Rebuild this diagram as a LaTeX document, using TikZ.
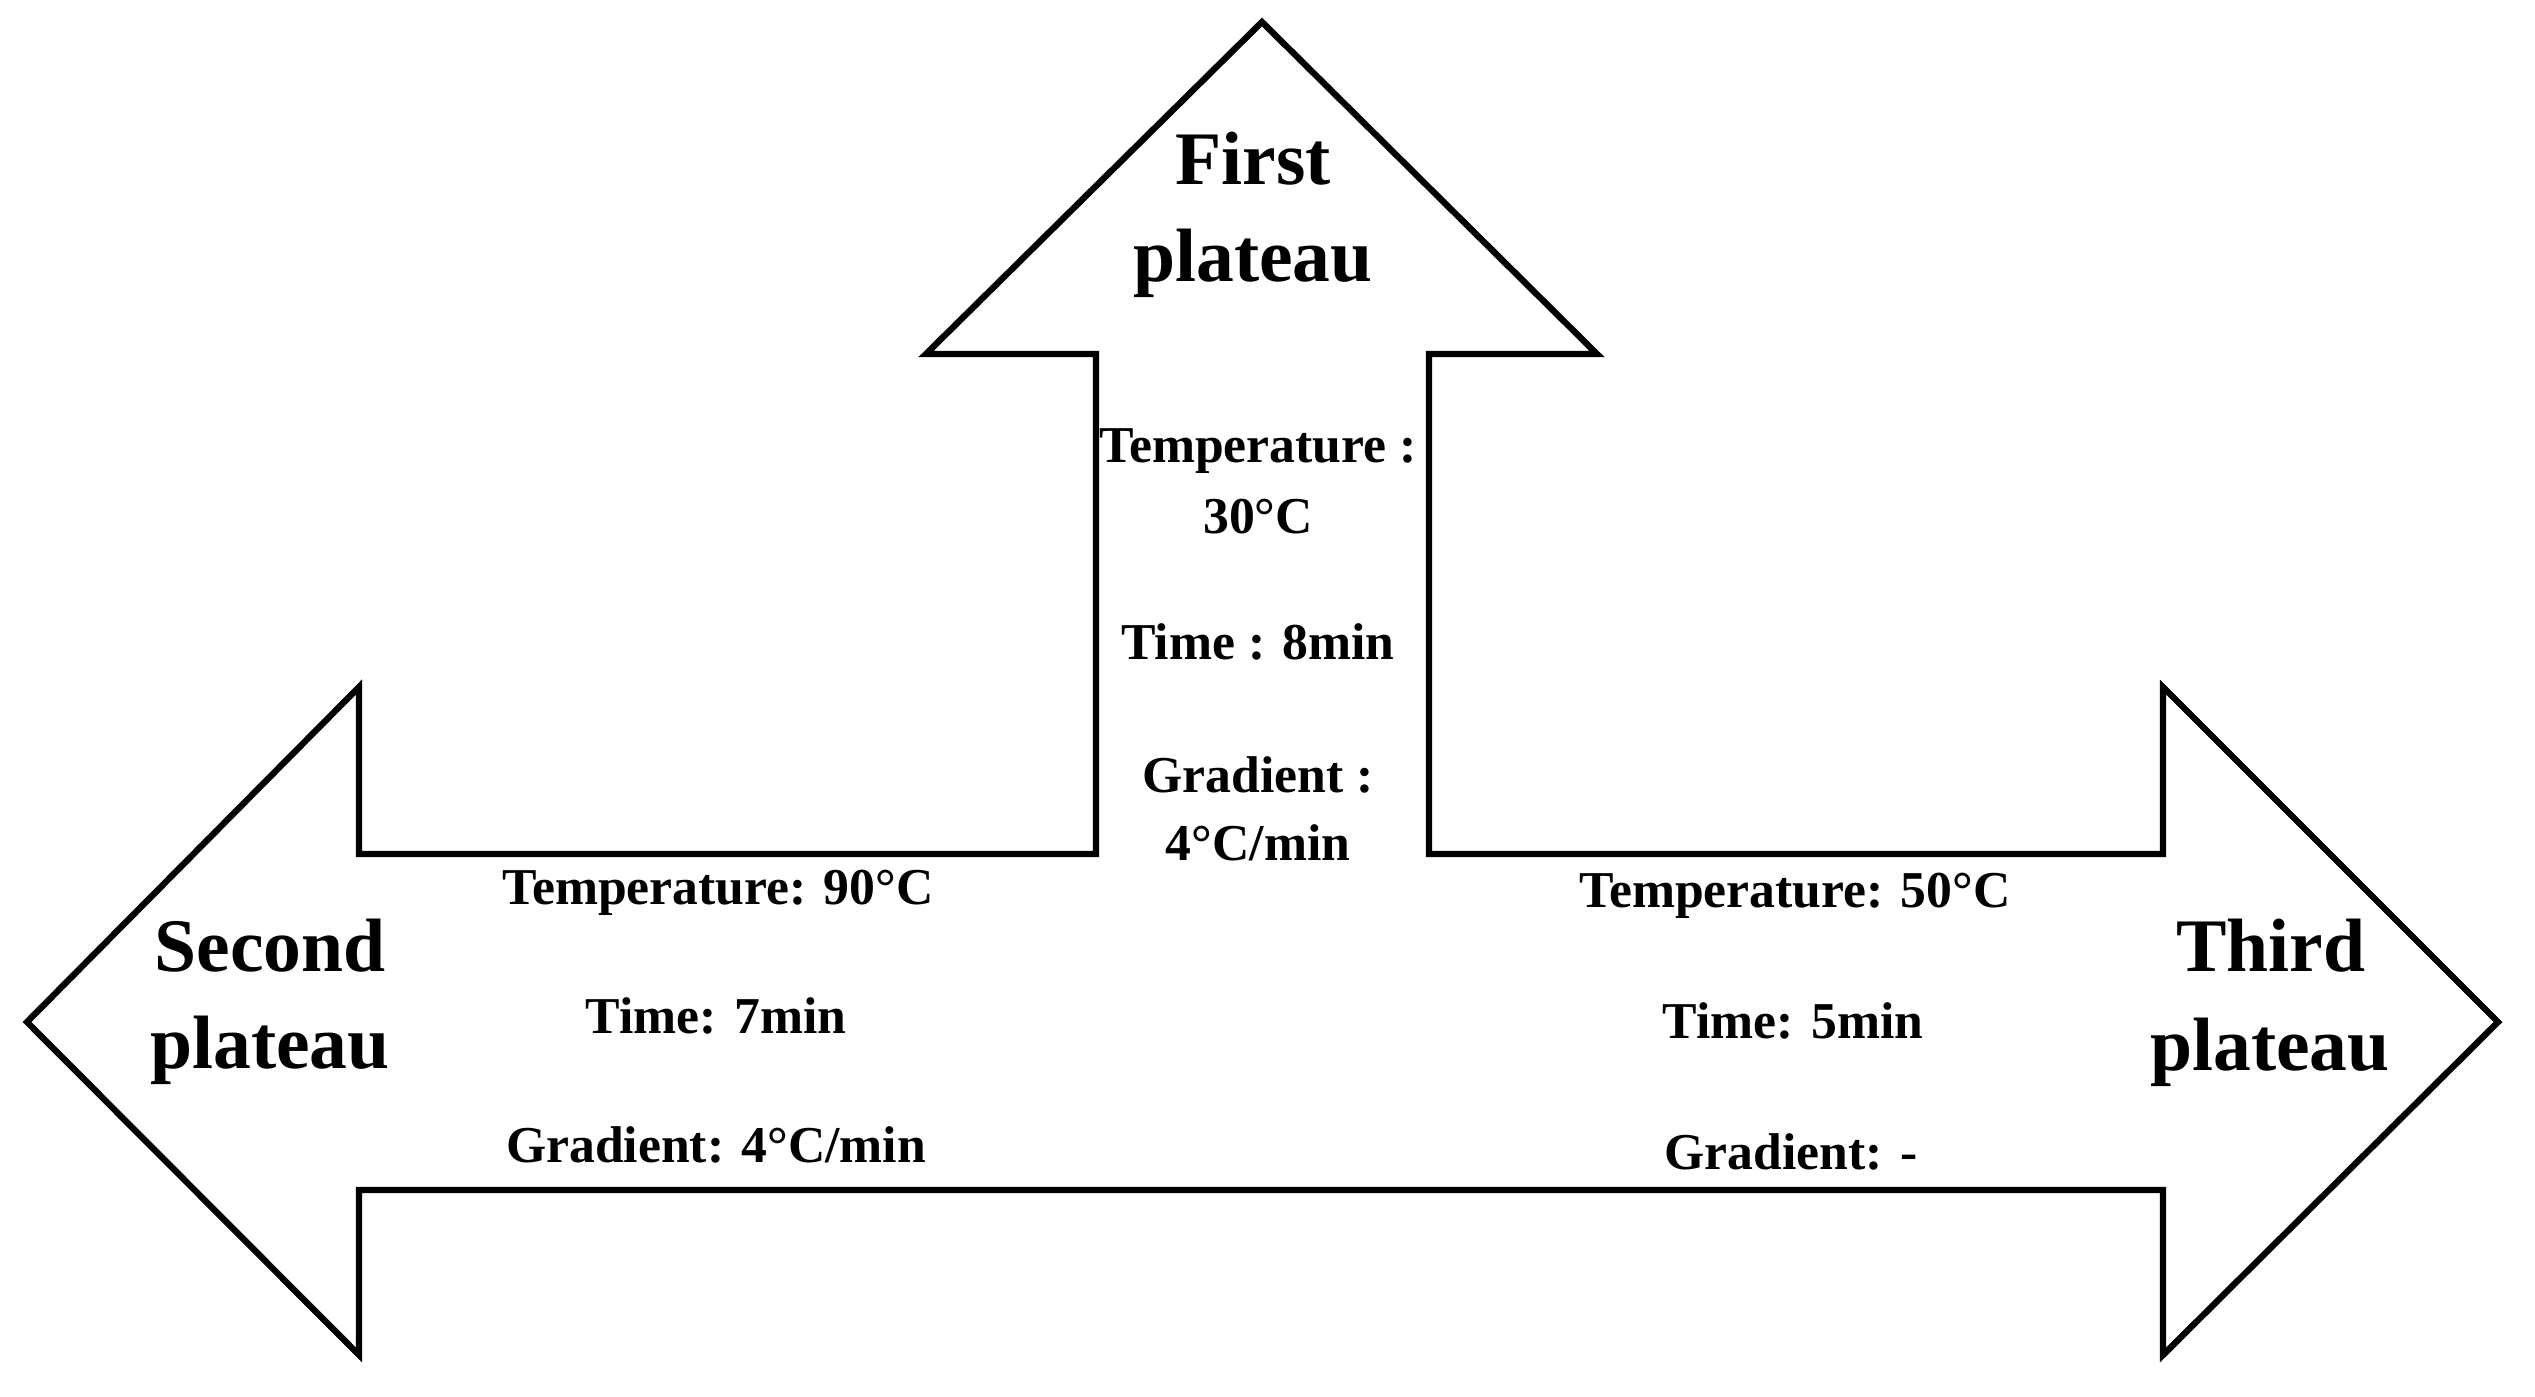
\documentclass[tikz,border=0pt]{standalone}
\usepackage{fontspec}
\setmainfont{Liberation Serif}
\begin{document}
\begin{tikzpicture}[x=0.01cm,y=-0.01cm,
  big/.style={font=\bfseries\fontsize{21.5}{26}\selectfont, inner sep=0pt, text height=0.7em, text depth=0.2em, anchor=center},
  small/.style={font=\bfseries\fontsize{14.7}{17}\selectfont, inner sep=0pt, text height=0.7em, text depth=0.2em, anchor=center},
  outline/.style={draw=black, line width=1.8pt, line join=miter, fill=white}]
\useasboundingbox (0,0) rectangle (2535,1397);
% arrow outline
\draw[outline] (1262,22) -- (1597,354) -- (1429,354) -- (1429,854) -- (2163,854) -- (2163,687)
  -- (2498,1022) -- (2163,1355) -- (2163,1190) -- (359,1190) -- (359,1355) -- (27,1022)
  -- (359,687) -- (359,854) -- (1096,854) -- (1096,354) -- (926,354) -- cycle;
% titles
\node[big] (f1) at (1253,176) {First};
\node[big] (f2) at (1253,273) {plateau};
\node[big] (s1) at (270,963) {Second};
\node[big] (s2) at (270,1060) {plateau};
\node[big] (h1) at (2271,963) {Third};
\node[big] (h2) at (2270,1062) {plateau};
% first plateau data
\node[small] (a1) at (1258,454) {Temperature :};
\node[small] (a2) at (1258,525) {30°C};
\node[small] (a3) at (1258,651) {Time : 8min};
\node[small] (a4) at (1258,784) {Gradient :};
\node[small] (a5) at (1258,852) {4°C/min};
% second plateau data
\node[small] (b1) at (718,896) {Temperature: 90°C};
\node[small] (b2) at (716,1025) {Time: 7min};
\node[small] (b3) at (716,1154) {Gradient: 4°C/min};
% third plateau data
\node[small] (c1) at (1795,899) {Temperature: 50°C};
\node[small] (c2) at (1793,1030) {Time: 5min};
\node[small] (c3) at (1791,1161) {Gradient: -};
\end{tikzpicture}
\end{document}
